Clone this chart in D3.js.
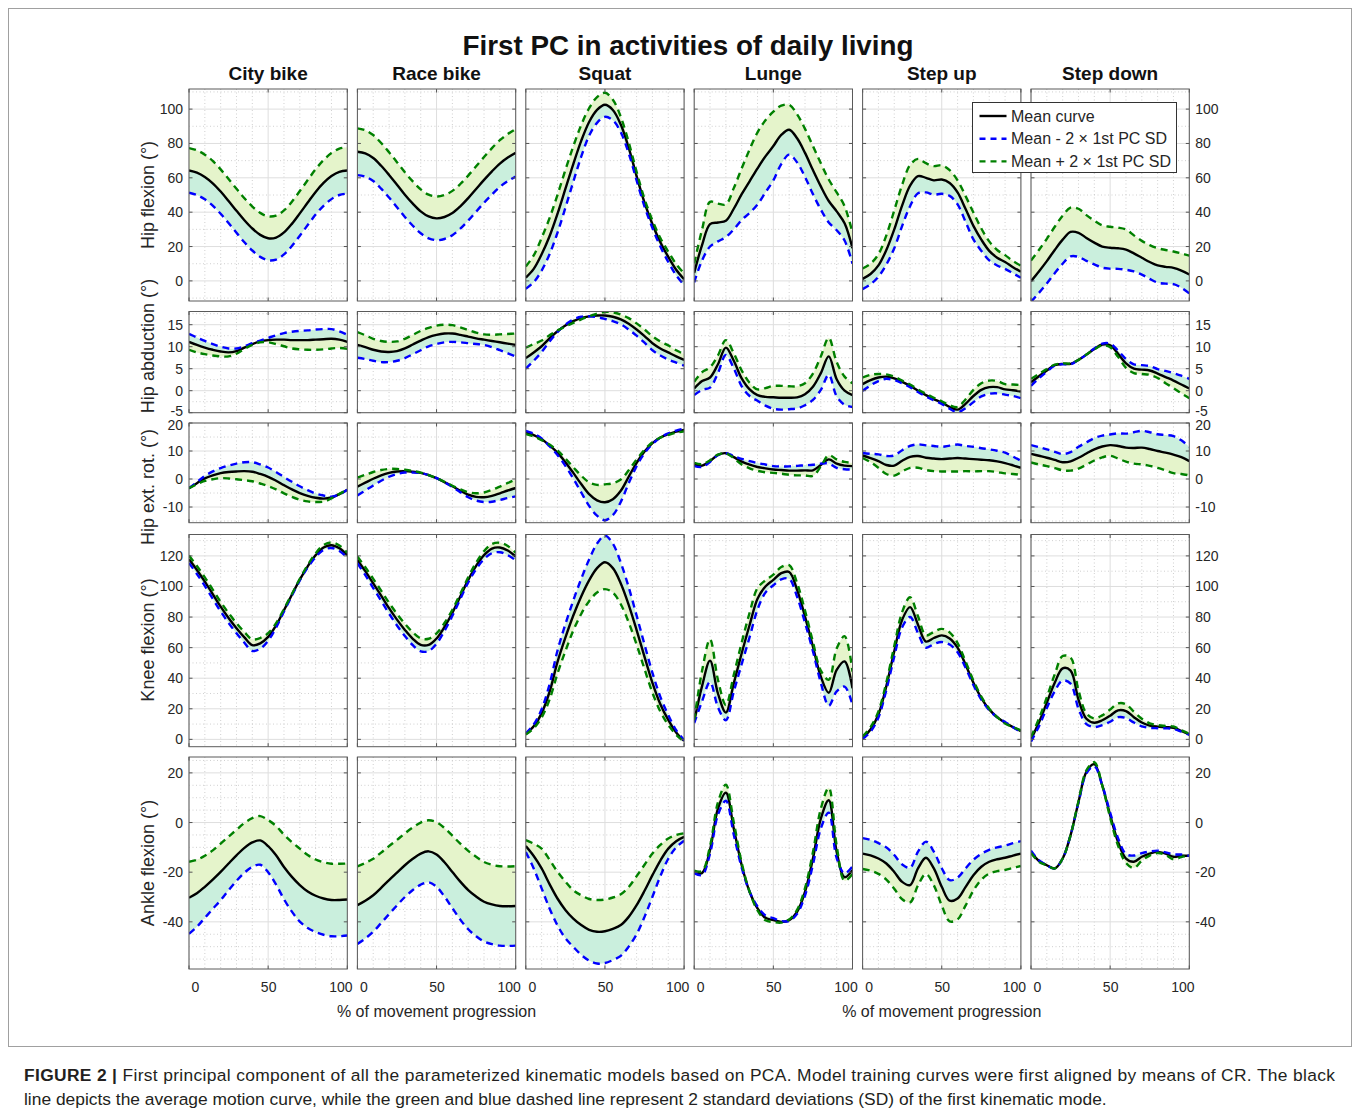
<!DOCTYPE html>
<html>
<head>
<meta charset="utf-8">
<script src="https://cdn.jsdelivr.net/npm/d3@7"></script>
<style>
  body { margin: 0; background: #fff; }
  text { font-family: "Liberation Sans", Arial, Helvetica, sans-serif; }
</style>
</head>
<body>
<div id="vis"></div>
<script>
// ---- data (x = % of movement, step 5)

const progress = [0, 5, 10, 15, 20, 25, 30, 35, 40, 45, 50, 55, 60, 65, 70, 75, 80, 85, 90, 95, 100]
const activities = ['City bike', 'Race bike', 'Squat', 'Lunge', 'Step up', 'Step down']
const jointLabels = ['Hip flexion (°)', 'Hip abduction (°)', 'Hip ext. rot. (°)', 'Knee flexion (°)', 'Ankle flexion (°)']
const legendLabels = ['Mean curve', 'Mean - 2 × 1st PC SD', 'Mean + 2 × 1st PC SD']

const xTicks = [0, 50, 100]
const hipFlexionTicks = [0, 20, 40, 60, 80, 100]
const hipAbductionTicks = [-5, 0, 5, 10, 15]
const hipRotationTicks = [-10, 0, 10, 20]
const kneeFlexionTicks = [0, 20, 40, 60, 80, 100, 120]
const ankleFlexionTicks = [-40, -20, 0, 20]

// mean curves, one array per activity
const hipFlexionMean = [
  [64.3, 63.0, 60.5, 56.8, 52.0, 46.5, 40.8, 35.3, 30.5, 26.8, 24.8, 25.2, 28.2, 33.2, 39.3, 45.6, 51.8, 57.0, 61.0, 63.5, 64.3],
  [75.2, 74.2, 71.5, 67.0, 61.7, 56.0, 50.2, 45.0, 40.5, 37.5, 36.4, 37.2, 39.5, 43.4, 48.2, 53.5, 58.8, 63.8, 68.3, 71.8, 74.6],
  [1.9, 7.0, 15.5, 26.0, 39.0, 53.5, 68.0, 81.5, 92.5, 99.5, 102.5, 99.5, 91.0, 77.5, 61.0, 45.5, 33.0, 22.5, 14.0, 6.5, 1.0],
  [4.7, 21.0, 33.0, 34.0, 35.0, 42.0, 50.5, 58.0, 65.5, 72.5, 78.5, 85.0, 88.0, 83.0, 74.5, 64.5, 55.0, 46.5, 40.5, 33.5, 19.0],
  [1.2, 4.0, 9.0, 18.0, 30.0, 44.0, 55.5, 61.0, 60.0, 58.5, 59.0, 57.0, 51.5, 42.0, 32.0, 24.0, 17.5, 13.5, 11.0, 8.0, 5.3],
  [-0.2, 5.5, 11.5, 18.0, 24.0, 28.5, 28.0, 25.0, 22.3, 20.0, 19.3, 19.0, 18.2, 16.0, 13.5, 11.0, 9.0, 8.2, 7.6, 6.0, 3.7]
]
// 2 x 1st PC SD (green curve = mean + sd, blue curve = mean - sd)
const hipFlexionSD = [
  [13, 13, 13, 13, 12.9, 12.8, 12.8, 12.8, 12.8, 12.8, 12.8, 12.8, 12.8, 12.9, 13, 13.1, 13.2, 13.3, 13.4, 13.5, 13.5],
  [13.6, 13.5, 13.4, 13.3, 13.2, 13.1, 13, 12.9, 12.8, 12.7, 12.7, 12.8, 12.9, 13, 13.1, 13.2, 13.3, 13.5, 13.6, 13.7, 13.8],
  [6.5, 7.8, 9.5, 10.5, 11, 11, 10.3, 9.2, 8, 7.5, 7, 6, 4.5, 3.2, 2.5, 2.2, 2.2, 2.5, 3, 3.3, 3.4],
  [5.5, 9, 13, 11, 9.5, 12, 15, 18.5, 21, 21, 20, 17, 14.5, 14, 14, 14, 13.5, 12.5, 11, 10, 9],
  [6, 6, 6.5, 8.5, 11, 12, 12, 10, 8.5, 8.3, 8.3, 7.5, 7, 7.5, 7.8, 6.5, 5.5, 4.5, 4, 3.6, 3.5],
  [12, 12.5, 13, 13.5, 14, 14.2, 14, 13.3, 12.7, 12.3, 12.2, 12, 11.7, 10.5, 9.8, 9.8, 10, 9.8, 9.5, 10, 11]
]

const hipAbductionMean = [
  [11.1, 10.4, 9.8, 9.3, 8.9, 8.7, 9.0, 9.8, 10.6, 11.2, 11.5, 11.6, 11.6, 11.5, 11.5, 11.5, 11.6, 11.7, 11.8, 11.6, 11.1],
  [10.4, 9.9, 9.3, 8.9, 8.8, 9.0, 9.6, 10.5, 11.4, 12.2, 12.7, 13.0, 13.0, 12.7, 12.3, 11.9, 11.6, 11.3, 11.0, 10.7, 10.4],
  [7.4, 8.7, 10.1, 11.9, 13.5, 14.8, 15.8, 16.5, 16.9, 17.1, 17.1, 16.8, 16.2, 15.2, 13.9, 12.4, 10.8, 9.6, 8.7, 7.8, 7.0],
  [0.5, 2.2, 3.0, 6.0, 9.8, 6.8, 2.8, 0.3, -1.0, -1.4, -1.5, -1.6, -1.6, -1.5, -0.8, 0.9, 4.0, 7.8, 2.6, 0.0, -1.0],
  [1.5, 2.4, 3.0, 3.2, 2.8, 2.0, 1.1, 0.0, -1.0, -1.9, -2.7, -3.7, -4.3, -3.0, -1.2, 0.2, 0.8, 0.8, 0.3, 0.1, -0.2],
  [1.9, 3.3, 4.6, 5.8, 6.1, 6.1, 7.0, 8.2, 9.5, 10.5, 10.3, 8.4, 6.2, 5.0, 4.8, 4.6, 3.9, 3.1, 2.3, 1.4, 0.5]
]
const hipAbductionSD = [
  [-1.8, -1.7, -1.5, -1.3, -1.1, -0.9, -0.6, -0.3, -0.2, -0.2, -0.5, -1.0, -1.5, -1.9, -2.1, -2.2, -2.3, -2.3, -2.2, -1.9, -1.6],
  [2.9, 2.7, 2.5, 2.4, 2.3, 2.2, 2.2, 2.2, 2.2, 2.1, 2.1, 2.0, 1.9, 1.7, 1.5, 1.3, 1.2, 1.4, 1.8, 2.2, 2.6],
  [2.4, 1.9, 1.3, 0.7, 0.2, -0.2, -0.4, -0.3, 0, 0.4, 0.8, 1.0, 1.1, 1.3, 1.4, 1.5, 1.6, 1.6, 1.6, 1.4, 1.3],
  [1.5, 2, 2.3, 2, 1.7, 1.7, 1.8, 1.5, 1.3, 2, 2.6, 2.7, 2.6, 2.5, 2.5, 3, 3.8, 4.2, 3.9, 3.2, 2.7],
  [1.5, 1.2, 0.8, 0.5, 0.4, 0.3, 0.3, 0.3, 0.3, 0.3, 0.3, 0.4, 0.6, 1.0, 1.4, 1.5, 1.5, 1.4, 1.2, 1.3, 1.5],
  [0.8, 0.5, 0.3, 0.1, 0.1, 0.1, 0, 0, -0.1, -0.2, -0.4, -0.7, -1.0, -1.0, -1.0, -1.0, -1.0, -1.4, -1.7, -2.0, -2.2]
]

const hipRotationMean = [
  [-3.3, -1.5, 0.2, 1.3, 2.1, 2.5, 2.7, 2.8, 2.6, 1.8, 0.8, -0.6, -2.2, -3.7, -5.0, -6.0, -6.7, -7.0, -6.6, -5.4, -3.8],
  [-2.7, -1.3, 0.1, 1.3, 2.2, 2.7, 2.8, 2.6, 2.2, 1.4, 0.3, -1.1, -2.6, -4.2, -5.6, -6.4, -6.5, -6.0, -5.1, -4.1, -3.2],
  [16.6, 15.7, 14.2, 12.0, 9.4, 6.0, 2.2, -1.8, -5.4, -7.6, -8.3, -7.2, -4.2, 0.8, 5.8, 9.8, 12.8, 14.8, 16.0, 16.9, 17.5],
  [5.2, 4.8, 6.4, 8.6, 9.2, 7.8, 6.2, 5.1, 4.3, 3.8, 3.4, 3.2, 3.0, 3.0, 3.1, 3.1, 5.0, 7.0, 5.5, 4.8, 4.6],
  [8.4, 7.5, 6.4, 5.0, 4.8, 6.5, 7.9, 8.2, 7.6, 7.3, 7.1, 7.3, 7.5, 7.3, 7.1, 6.9, 6.7, 6.3, 5.7, 4.9, 4.0],
  [9.0, 8.3, 7.6, 6.8, 6.0, 6.3, 7.6, 9.1, 10.6, 11.6, 12.1, 11.8, 11.2, 11.1, 11.2, 10.7, 10.0, 9.4, 8.7, 7.8, 6.4]
]
const hipRotationSD = [
  [0, -0.4, -0.9, -1.4, -1.8, -2.3, -2.8, -3.2, -3.4, -3.4, -3.3, -3.1, -2.9, -2.7, -2.4, -2.0, -1.5, -1.1, -0.3, 0.1, 0],
  [3.2, 2.8, 2.4, 1.9, 1.4, 0.9, 0.5, 0.3, 0.1, 0, 0, 0.1, 0.2, 0.5, 0.9, 1.3, 1.7, 2.1, 2.4, 2.7, 3.0],
  [-0.6, -0.5, -0.3, 0.3, 0.8, 1.3, 2.0, 3.0, 4.2, 5.5, 6.4, 5.7, 4.0, 2.3, 1.2, 0.6, 0.3, 0, -0.3, -0.4, -0.5],
  [0.6, 0.5, 0.3, 0.1, 0, -0.4, -1.0, -1.3, -1.4, -1.4, -1.2, -1.3, -1.5, -1.7, -1.8, -2.0, -0.5, 1.5, 1.5, 1.3, 1.2],
  [-0.9, -1.5, -2.4, -3.2, -3.6, -3.8, -3.9, -4.2, -4.4, -4.5, -4.4, -4.6, -4.8, -4.5, -4.4, -4.1, -3.9, -3.8, -3.7, -3.1, -2.5],
  [-3.1, -3.1, -3.0, -2.9, -2.9, -3.3, -3.9, -4.0, -4.0, -3.9, -3.8, -4.5, -5.0, -5.6, -6.0, -6.0, -6.0, -6.3, -6.6, -6.0, -5.1]
]

const kneeFlexionMean = [
  [117.8, 110.8, 103.2, 95.0, 86.8, 79.4, 72.7, 66.7, 61.6, 62.8, 67.0, 74.5, 84.5, 94.6, 104.5, 113.2, 120.5, 125.5, 127.0, 125.0, 120.5],
  [117.4, 110.0, 102.0, 94.0, 85.8, 78.3, 71.6, 65.8, 61.8, 61.8, 66.0, 73.5, 82.8, 93.5, 104.3, 113.5, 120.5, 124.8, 125.5, 123.5, 119.6],
  [3.5, 8.5, 17.0, 31.0, 50.5, 66.5, 81.0, 93.5, 104.0, 112.0, 115.8, 112.0, 102.0, 88.0, 71.5, 54.0, 37.0, 23.0, 12.7, 4.5, -1.0],
  [11.6, 35.0, 51.5, 30.0, 17.5, 36.7, 56.3, 74.8, 92.0, 100.0, 104.3, 108.7, 109.5, 97.8, 80.3, 60.7, 41.0, 30.5, 45.4, 51.0, 33.4],
  [1.1, 6.5, 16.3, 34.8, 57.6, 78.3, 86.5, 75.0, 64.0, 66.3, 68.0, 66.0, 60.0, 49.0, 37.0, 27.0, 19.6, 14.5, 10.9, 8.0, 5.4],
  [0.0, 11.0, 24.0, 37.0, 46.5, 45.0, 26.0, 13.5, 10.9, 12.5, 15.5, 19.0, 18.5, 14.5, 11.0, 9.0, 8.3, 8.0, 7.6, 5.5, 3.3]
]
const kneeFlexionSD = [
  [2.4, 2.6, 2.8, 3.0, 3.1, 3.2, 3.3, 3.5, 3.8, 3.5, 2.5, 1.5, 0.8, 0.5, 0.5, 0.8, 1.2, 1.6, 1.8, 1.8, 1.6],
  [2.2, 2.6, 3.0, 3.3, 3.5, 3.8, 4.0, 4.2, 4.2, 4.0, 3.4, 2.6, 2.0, 1.7, 1.7, 2.1, 2.6, 3.0, 3.1, 3.0, 2.5],
  [-0.3, -1.2, -2.7, -5.0, -7.5, -8.8, -9.8, -11.5, -13.6, -16.0, -17.5, -16.0, -13.6, -11.5, -9.5, -8.0, -6.5, -4.8, -3.2, -1.5, -0.5],
  [1, 10, 14, 9, 5, 5.5, 7, 8, 7, 4, 3.5, 4, 4.5, 4.5, 4, 3, 4, 8.5, 14, 16.5, 11],
  [0.8, 1.5, 2, 2.5, 3.5, 5, 6.5, 5.5, 4, 4, 4.3, 4, 3, 2, 1.5, 1, 0.5, 0, -0.5, 0, 0.5],
  [1.5, 2.5, 3.5, 5.5, 8, 8.5, 6, 3.5, 2.8, 3.2, 4, 4.5, 4.5, 3.5, 2.5, 1.5, 1, 0.8, 0.8, 0.5, 0.3]
]

const ankleFlexionMean = [
  [-30.3, -28.5, -25.9, -23.0, -19.9, -16.5, -13.2, -10.2, -8.0, -7.2, -9.5, -13.2, -17.9, -21.9, -25.2, -27.8, -29.5, -30.6, -31.2, -31.2, -31.0],
  [-33.3, -31.5, -29.3, -26.3, -23.2, -20.2, -17.2, -14.6, -12.5, -11.6, -12.9, -16.0, -19.9, -23.8, -27.2, -29.8, -31.9, -33.0, -33.6, -33.7, -33.6],
  [-9.5, -13.5, -18.5, -24.8, -30.6, -35.2, -38.7, -41.3, -43.2, -44.0, -43.8, -42.8, -41.3, -38.0, -33.3, -27.5, -21.2, -15.3, -10.5, -7.5, -5.8],
  [-19.9, -20.3, -11.0, 5.6, 12.0, -2.4, -17.2, -27.9, -34.6, -38.4, -39.3, -40.0, -39.3, -36.0, -27.9, -14.5, 1.6, 9.0, -11.8, -22.0, -19.2],
  [-12.5, -13.2, -14.5, -16.5, -19.9, -23.9, -25.2, -18.5, -14.2, -18.5, -25.9, -31.5, -30.6, -26.0, -21.2, -17.8, -15.8, -14.8, -14.2, -13.3, -12.5],
  [-11.8, -15.5, -17.2, -18.5, -14.5, -5.1, 8.3, 20.4, 23.5, 15.0, 3.0, -7.8, -14.5, -15.8, -13.8, -12.5, -11.8, -12.5, -13.8, -13.4, -13.4]
]
const ankleFlexionSD = [
  [14.5, 13.5, 12.5, 11.8, 11.4, 10.8, 10.3, 10.0, 9.8, 9.8, 10.5, 11.8, 13.0, 14.0, 14.7, 14.7, 14.6, 14.6, 14.6, 14.6, 14.5],
  [15.6, 15.2, 14.7, 14.2, 13.7, 13.2, 12.8, 12.6, 12.5, 12.5, 13.0, 13.8, 14.6, 15.3, 15.8, 16.0, 16.0, 16.0, 16.0, 16.0, 16.0],
  [2.4, 5, 8, 9.8, 10.8, 11.4, 11.4, 12, 12.4, 12.8, 12.8, 12.6, 12.4, 12, 11.7, 10.5, 8.7, 6.3, 4.1, 2.5, 1.5],
  [0.5, 0.8, 1.5, 2.5, 3.2, 2.5, 1, 0, -0.8, -1, -0.8, -0.3, 0.3, 0.8, 1.5, 2.5, 4, 5, 2.5, -1.5, -1.5],
  [-6.2, -6.2, -6.2, -6.5, -6.8, -7.0, -7.0, -6.8, -6.5, -6.8, -7.5, -8.3, -8.4, -7.5, -6.2, -5.2, -4.8, -4.8, -4.9, -5.0, -5.0],
  [-0.5, -0.3, 0, 0, 0, 0, 0.3, 0.6, 0.8, 0, -1, -1.5, -1.8, -2.5, -1.5, -0.8, -0.5, -0.5, -1, -0.5, 0]
]

const meanRows = [hipFlexionMean, hipAbductionMean, hipRotationMean, kneeFlexionMean, ankleFlexionMean]
const sdRows = [hipFlexionSD, hipAbductionSD, hipRotationSD, kneeFlexionSD, ankleFlexionSD]
const tickRows = [hipFlexionTicks, hipAbductionTicks, hipRotationTicks, kneeFlexionTicks, ankleFlexionTicks]

// ---- layout

const svg_width = 1360,
      svg_height = 1116,
      svg = d3.select('#vis').append('svg')

svg.attr('width', svg_width).attr('height', svg_height)

const colLeft = 189, colStep = 168.4, panelW = 158.3
const rowTop = [89, 311.5, 423, 534.5, 757]
const rowH = [212, 101.2, 99.7, 212.2, 212]
const yRanges = [[-11.7, 111.7], [-5, 18], [-15.6, 20], [-4.8, 134], [-59, 26.4]]
const minorStep = [10, 2.5, 5, 10, 5]
const labelCenter = [195, 346, 487, 640, 863]

const ink = '#262626',
      upperFill = '#e5f4cb',
      lowerFill = '#caefdd',
      green = '#008000',
      blue = '#0000ff'

svg.append('rect')
  .attr('x', 8.5).attr('y', 8.5)
  .attr('width', 1343).attr('height', 1038)
  .attr('fill', 'none').attr('stroke', '#a0a0a0')

// titles
svg.append('text')
  .attr('x', 688).attr('y', 55)
  .attr('text-anchor', 'middle')
  .attr('font-size', 27.8).attr('font-weight', 'bold')
  .attr('fill', '#111')
  .text('First PC in activities of daily living')

activities.forEach((name, c) => {
  svg.append('text')
    .attr('x', colLeft + c * colStep + panelW / 2).attr('y', 80)
    .attr('text-anchor', 'middle')
    .attr('font-size', 19).attr('font-weight', 'bold')
    .attr('fill', '#111')
    .text(name)
})

jointLabels.forEach((label, r) => {
  svg.append('text')
    .attr('transform', `translate(154,${labelCenter[r]}) rotate(-90)`)
    .attr('text-anchor', 'middle')
    .attr('font-size', 18)
    .attr('fill', ink)
    .text(label)
})

const x = d3.scaleLinear().domain([0, 100]).range([0, panelW])
const xMinor = d3.range(10, 100, 10).filter(v => !xTicks.includes(v))

// ---- panels
rowTop.forEach((top, r) => {
  const h = rowH[r]
  const y = d3.scaleLinear().domain(yRanges[r]).range([h, 0])
  const [lo, hi] = yRanges[r]
  const yMinor = d3.range(Math.ceil(lo / minorStep[r]) * minorStep[r], hi, minorStep[r])
    .filter(v => !tickRows[r].includes(v))

  activities.forEach((name, c) => {
    const left = colLeft + c * colStep
    const g = svg.append('g').attr('transform', `translate(${left},${top})`)
    const clipId = `clip-${r}-${c}`
    g.append('clipPath').attr('id', clipId)
      .append('rect').attr('width', panelW).attr('height', h)

    g.append('rect').attr('width', panelW).attr('height', h).attr('fill', '#fff')

    // minor grid (dotted)
    const minor = g.append('g')
      .attr('stroke', '#c4c4c4').attr('stroke-width', 0.8)
      .attr('stroke-dasharray', '1,2.5')
    minor.selectAll('.hy').data(yMinor).join('line')
      .attr('x1', 0).attr('x2', panelW)
      .attr('y1', d => y(d)).attr('y2', d => y(d))
    minor.selectAll('.vx').data(xMinor).join('line')
      .attr('y1', 0).attr('y2', h)
      .attr('x1', d => x(d)).attr('x2', d => x(d))

    // major grid
    const major = g.append('g').attr('stroke', '#dedede').attr('stroke-width', 1)
    major.selectAll('.hy').data(tickRows[r]).join('line')
      .attr('x1', 0).attr('x2', panelW)
      .attr('y1', d => y(d)).attr('y2', d => y(d))
    major.selectAll('.vx').data(xTicks).join('line')
      .attr('y1', 0).attr('y2', h)
      .attr('x1', d => x(d)).attr('x2', d => x(d))

    const mean = meanRows[r][c]
    const sd = sdRows[r][c]
    const idx = d3.range(progress.length)
    const curve = d3.curveCatmullRom.alpha(0.5)

    const plot = g.append('g').attr('clip-path', `url(#${clipId})`)

    const band = (sign) => d3.area()
      .x(i => x(progress[i]))
      .y0(i => y(mean[i]))
      .y1(i => y(mean[i] + sign * sd[i]))
      .curve(curve)

    plot.append('path').datum(idx).attr('d', band(1)).attr('fill', upperFill)
    plot.append('path').datum(idx).attr('d', band(-1)).attr('fill', lowerFill)

    const line = (sign) => d3.line()
      .x(i => x(progress[i]))
      .y(i => y(mean[i] + sign * sd[i]))
      .curve(curve)

    plot.append('path').datum(idx).attr('d', line(0))
      .attr('fill', 'none').attr('stroke', '#000').attr('stroke-width', 2.4)
    plot.append('path').datum(idx).attr('d', line(-1))
      .attr('fill', 'none').attr('stroke', blue).attr('stroke-width', 2.4)
      .attr('stroke-dasharray', '7,5')
    plot.append('path').datum(idx).attr('d', line(1))
      .attr('fill', 'none').attr('stroke', green).attr('stroke-width', 2.4)
      .attr('stroke-dasharray', '7,5')

    // inner tick marks
    const marks = g.append('g').attr('stroke', '#555').attr('stroke-width', 1)
    marks.selectAll('.tl').data(tickRows[r]).join('line')
      .attr('x1', 0).attr('x2', 3.5).attr('y1', d => y(d)).attr('y2', d => y(d))
    marks.selectAll('.tr').data(tickRows[r]).join('line')
      .attr('x1', panelW - 3.5).attr('x2', panelW).attr('y1', d => y(d)).attr('y2', d => y(d))
    marks.selectAll('.tb').data(xTicks).join('line')
      .attr('x1', d => x(d)).attr('x2', d => x(d)).attr('y1', h - 3.5).attr('y2', h)
    marks.selectAll('.tt').data(xTicks).join('line')
      .attr('x1', d => x(d)).attr('x2', d => x(d)).attr('y1', 0).attr('y2', 3.5)

    g.append('rect').attr('width', panelW).attr('height', h)
      .attr('fill', 'none').attr('stroke', '#5a5a5a').attr('stroke-width', 1)

    // tick labels; the end labels of the short rows are nudged apart like in the figure
    const nudge = d => (r === 1 && d === -5) ? -2 : (r === 2 && d === 20) ? 2 : 0
    const styleAxis = a => {
      a.select('.domain').remove()
      a.attr('font-family', null).attr('font-size', 14)
      a.selectAll('text').attr('fill', ink)
    }
    if (c === 0) {
      g.append('g')
        .call(d3.axisLeft(y).tickValues(tickRows[r]).tickSize(0).tickPadding(6).tickFormat(d => String(d)))
        .call(styleAxis)
        .selectAll('.tick text').attr('y', nudge)
    }
    if (c === activities.length - 1) {
      g.append('g').attr('transform', `translate(${panelW},0)`)
        .call(d3.axisRight(y).tickValues(tickRows[r]).tickSize(0).tickPadding(6).tickFormat(d => String(d)))
        .call(styleAxis)
        .selectAll('.tick text').attr('y', nudge)
    }
    if (r === rowTop.length - 1) {
      g.append('g').attr('transform', `translate(0,${h})`)
        .call(d3.axisBottom(x).tickValues(xTicks).tickSize(0).tickPadding(13).tickFormat(d => String(d)))
        .call(styleAxis)
        .selectAll('.tick text')
        .attr('dx', d => d === 0 ? 6 : d === 100 ? -7 : 0)
    }
  })
})

// x axis titles under columns 2 and 5
;[1, 4].forEach(c => {
  svg.append('text')
    .attr('x', colLeft + c * colStep + panelW / 2).attr('y', 1017)
    .attr('text-anchor', 'middle')
    .attr('font-size', 16)
    .attr('fill', ink)
    .text('% of movement progression')
})

// ---- legend
const legend = svg.append('g').attr('transform', 'translate(972.5,102.5)')
legend.append('rect')
  .attr('width', 204).attr('height', 70)
  .attr('fill', '#fff').attr('stroke', '#333').attr('stroke-width', 1)

const legendStyles = [
  { stroke: '#000', dash: null },
  { stroke: blue, dash: '6,5' },
  { stroke: green, dash: '6,5' }
]
legendLabels.forEach((label, i) => {
  const ly = 13.5 + i * 22.7
  legend.append('line')
    .attr('x1', 7).attr('x2', 34).attr('y1', ly).attr('y2', ly)
    .attr('stroke', legendStyles[i].stroke).attr('stroke-width', 2.4)
    .attr('stroke-dasharray', legendStyles[i].dash)
  legend.append('text')
    .attr('x', 38.5).attr('y', ly + 5.5)
    .attr('font-size', 16).attr('fill', ink)
    .text(label)
})

// ---- caption
const caption = svg.append('g').attr('fill', '#231f20').attr('font-size', 17.4)
const line1 = caption.append('text').attr('x', 24).attr('y', 1081)
  .attr('textLength', 1311).attr('lengthAdjust', 'spacing')
line1.append('tspan').attr('font-weight', 'bold').text('FIGURE 2 |')
line1.append('tspan').text(' First principal component of all the parameterized kinematic models based on PCA. Model training curves were first aligned by means of CR. The black')
caption.append('text').attr('x', 24).attr('y', 1105)
  .text('line depicts the average motion curve, while the green and blue dashed line represent 2 standard deviations (SD) of the first kinematic mode.')
</script>
</body>
</html>
